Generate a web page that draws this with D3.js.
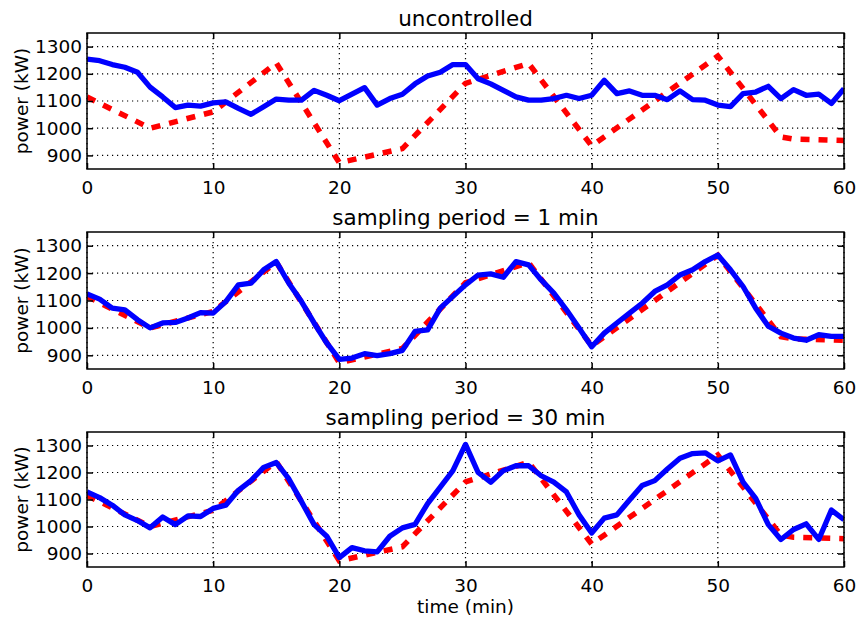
<!DOCTYPE html>
<html>
<head>
<meta charset="utf-8">
<script src="https://cdn.jsdelivr.net/npm/d3@7"></script>
<style>
  html, body { margin: 0; padding: 0; background: #fff; }
  svg { display: block; font-family: "DejaVu Sans", sans-serif; }
</style>
</head>
<body>
<svg id="chart" width="858" height="620"></svg>
<script>
// ---- data ----
const panelTitles = ["uncontrolled", "sampling period = 1 min", "sampling period = 30 min"];
const xTicks = [0, 10, 20, 30, 40, 50, 60];
const yTicks = [900, 1000, 1100, 1200, 1300];
const xLabel = "time (min)";
const yLabel = "power (kW)";

// reference (red dashed) breakpoints: minute, kW
const refTime  = [0, 5, 10, 15, 20, 25, 30, 35, 40, 50, 55, 56, 60];
const refPower = [1115, 1000, 1060, 1240, 873, 925, 1165, 1238, 935, 1265, 968, 960, 955];

// measured power (blue) at every minute 0..60
const uncontrolled = [1254, 1248, 1234, 1224, 1206, 1151, 1115, 1076, 1085, 1081,
  1093, 1097, 1073, 1051, 1079, 1107, 1103, 1103, 1139, 1121,
  1101, 1125, 1149, 1085, 1109, 1125, 1163, 1192, 1206, 1234,
  1234, 1182, 1163, 1139, 1115, 1103, 1103, 1109, 1121, 1109,
  1121, 1176, 1127, 1137, 1121, 1121, 1105, 1137, 1105, 1103,
  1085, 1079, 1127, 1133, 1154, 1109, 1142, 1121, 1125, 1091, 1145];
const sampling1 = [1124, 1105, 1072, 1066, 1030, 1000, 1018, 1020, 1036, 1056,
  1054, 1096, 1157, 1163, 1212, 1242, 1163, 1096, 1018, 945,
  885, 890, 906, 899, 906, 918, 987, 993, 1072, 1115,
  1157, 1193, 1197, 1185, 1242, 1230, 1175, 1127, 1066, 1000,
  931, 981, 1018, 1054, 1090, 1133, 1157, 1193, 1212, 1242,
  1266, 1212, 1151, 1072, 1006, 981, 963, 955, 975, 969, 969];
const sampling30 = [1128, 1107, 1079, 1043, 1022, 995, 1035, 1007, 1039, 1037,
  1067, 1079, 1134, 1170, 1219, 1237, 1176, 1092, 1007, 964,
  885, 922, 910, 906, 964, 995, 1008, 1085, 1146, 1207,
  1304, 1200, 1164, 1207, 1225, 1225, 1188, 1164, 1128, 1043,
  976, 1031, 1043, 1098, 1152, 1170, 1213, 1253, 1270, 1273,
  1243, 1265, 1164, 1104, 1007, 952, 989, 1010, 952, 1061, 1025];
const blueSeries = [uncontrolled, sampling1, sampling30];

// ---- layout ----
const svg = d3.select("#chart");
const left = 87, right = 844;
const panels = [ {top: 33, bottom: 169}, {top: 232, bottom: 369}, {top: 432, bottom: 567} ];
const fontTick = "18.5px";

const x = d3.scaleLinear().domain([0, 60]).range([left, right]);

panels.forEach((p, i) => {
  const y = d3.scaleLinear().domain([850, 1350]).range([p.bottom, p.top]);
  const g = svg.append("g");

  // grid
  g.selectAll(".gx").data(xTicks).enter().append("line")
    .attr("x1", d => x(d)).attr("x2", d => x(d))
    .attr("y1", p.top).attr("y2", p.bottom)
    .attr("stroke", "#000").attr("stroke-width", 1.2)
    .attr("stroke-dasharray", "1.2,3.8");
  g.selectAll(".gy").data(yTicks).enter().append("line")
    .attr("x1", left).attr("x2", right)
    .attr("y1", d => y(d)).attr("y2", d => y(d))
    .attr("stroke", "#000").attr("stroke-width", 1.2)
    .attr("stroke-dasharray", "1.2,3.8");

  // lines
  const clipId = "clip" + i;
  svg.append("clipPath").attr("id", clipId).append("rect")
    .attr("x", left).attr("y", p.top).attr("width", right - left).attr("height", p.bottom - p.top);

  const refData = refTime.map((t, k) => [t, refPower[k]]);
  g.append("path")
    .datum(refData)
    .attr("clip-path", `url(#${clipId})`)
    .attr("fill", "none").attr("stroke", "#ff0000").attr("stroke-width", 5.5)
    .attr("stroke-dasharray", "9,9")
    .attr("d", d3.line().x(d => x(d[0])).y(d => y(d[1])));

  g.append("path")
    .datum(blueSeries[i].map((v, k) => [k, v]))
    .attr("clip-path", `url(#${clipId})`)
    .attr("fill", "none").attr("stroke", "#0000ff").attr("stroke-width", 5.3)
    .attr("stroke-linejoin", "round")
    .attr("d", d3.line().x(d => x(d[0])).y(d => y(d[1])));

  // axes (inward ticks on all sides)
  const axB = d3.axisBottom(x).tickValues(xTicks).tickFormat(d3.format("d")).tickSizeInner(-6).tickSizeOuter(0).tickPadding(12);
  const axT = d3.axisTop(x).tickValues(xTicks).tickSizeInner(-6).tickSizeOuter(0).tickFormat("");
  const axL = d3.axisLeft(y).tickValues(yTicks).tickFormat(d3.format("d")).tickSizeInner(-6).tickSizeOuter(0).tickPadding(5);
  const axR = d3.axisRight(y).tickValues(yTicks).tickSizeInner(-6).tickSizeOuter(0).tickFormat("");

  const gb = g.append("g").attr("transform", `translate(0,${p.bottom})`).call(axB);
  const gt = g.append("g").attr("transform", `translate(0,${p.top})`).call(axT);
  const gl = g.append("g").attr("transform", `translate(${left},0)`).call(axL);
  const gr = g.append("g").attr("transform", `translate(${right},0)`).call(axR);
  [gb, gt, gl, gr].forEach(a => {
    a.select(".domain").remove();
    a.selectAll("line").attr("stroke", "#000").attr("stroke-width", 1.5);
    a.selectAll("text").attr("font-family", "DejaVu Sans").attr("font-size", fontTick).attr("fill", "#000");
  });
  gb.selectAll("text").attr("dy", "0.71em");

  // frame
  g.append("rect").attr("x", left).attr("y", p.top)
    .attr("width", right - left).attr("height", p.bottom - p.top)
    .attr("fill", "none").attr("stroke", "#000").attr("stroke-width", 1.5);

  // title
  g.append("text").attr("x", (left + right) / 2).attr("y", p.top - 7)
    .attr("text-anchor", "middle").attr("font-size", "21.5px").attr("fill", "#000")
    .text(panelTitles[i]);

  // y label
  g.append("text")
    .attr("transform", `translate(28,${(p.top + p.bottom) / 2}) rotate(-90)`)
    .attr("text-anchor", "middle").attr("font-size", "18.5px").attr("fill", "#000")
    .text(yLabel);
});

svg.append("text").attr("x", (left + right) / 2).attr("y", 613)
  .attr("text-anchor", "middle").attr("font-size", "18.5px").attr("fill", "#000")
  .text(xLabel);
</script>
</body>
</html>
